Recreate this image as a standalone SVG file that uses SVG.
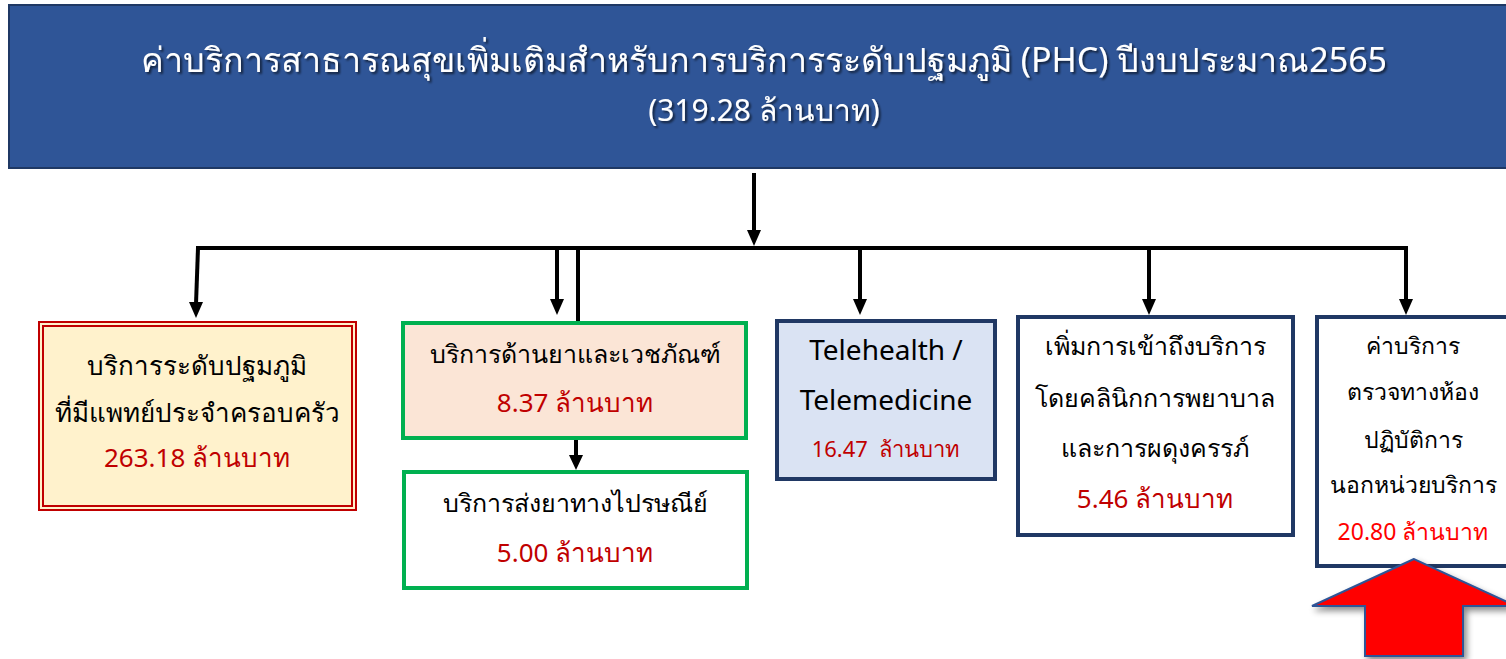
<svg xmlns="http://www.w3.org/2000/svg" width="1506" height="659" viewBox="0 0 1506 659">
<style>
text{font-family:"Noto Sans","DejaVu Sans",sans-serif;text-anchor:middle}
.t{fill:#000;font-size:26px}
.r{fill:#C00000;font-size:26px}
.h{fill:#fff;font-size:34px}
.c{stroke:#000;stroke-width:4;fill:none}
.nb{stroke:#203864;stroke-width:4}
.gb{stroke:#00B050;stroke-width:4}
</style>
<defs>
<filter id="ts" x="-5%" y="-20%" width="110%" height="140%">
<feDropShadow dx="2" dy="2" stdDeviation="1.2" flood-color="#000" flood-opacity="0.6"/>
</filter>
<filter id="as" x="-20%" y="-20%" width="140%" height="140%">
<feDropShadow dx="3" dy="4" stdDeviation="3" flood-color="#000" flood-opacity="0.45"/>
</filter>
</defs>

<g id="header">
<rect x="9" y="5" width="1510" height="163" fill="#2F5597" stroke="#1F3864" stroke-width="2"/>
<g filter="url(#ts)">
<text class="h" x="764" y="72">ค่าบริการสาธารณสุขเพิ่มเติมสำหรับการบริการระดับปฐมภูมิ (PHC) ปีงบประมาณ2565</text>
<text class="h" x="764" y="121" style="font-size:30px">(319.28 ล้านบาท)</text>
</g>
</g>

<g id="connectors">
<path class="c" d="M754,173 V232"/>
<path d="M747,230 L761,230 L754,246 Z"/>
<path class="c" d="M196,248 H1408"/>
<path class="c" d="M198,248 L196,304"/>
<path d="M189,302 L203,302 L196,318 Z"/>
<path class="c" d="M557,248 V300"/>
<path d="M550,299 L564,299 L557,315 Z"/>
<path class="c" d="M578,248 V322"/>
<path class="c" d="M860,248 V300"/>
<path d="M853,299 L867,299 L860,315 Z"/>
<path class="c" d="M1149,248 V300"/>
<path d="M1142,299 L1156,299 L1149,315 Z"/>
<path class="c" d="M1406,248 V300"/>
<path d="M1399,299 L1413,299 L1406,315 Z"/>
<path class="c" d="M576,440 V456"/>
<path d="M569,455 L583,455 L576,470 Z"/>
</g>

<g id="n1">
<rect x="39" y="322" width="317" height="188" fill="#FFF2CC" stroke="#C00000" stroke-width="2"/>
<rect x="43" y="326" width="309" height="180" fill="none" stroke="#C00000" stroke-width="2"/>
<text class="t" x="197" y="375">บริการระดับปฐมภูมิ</text>
<text class="t" x="197" y="422">ที่มีแพทย์ประจำครอบครัว</text>
<text class="r" x="197" y="467">263.18 ล้านบาท</text>
</g>

<g id="n2">
<rect x="403" y="323" width="343" height="115" fill="#FBE5D6" class="gb"/>
<text class="t" x="575" y="363" style="font-size:25px">บริการด้านยาและเวชภัณฑ์</text>
<text class="r" x="575" y="412">8.37 ล้านบาท</text>
</g>

<g id="n3">
<rect x="404" y="472" width="343" height="116" fill="#fff" class="gb"/>
<text class="t" x="575" y="512" style="font-size:25px">บริการส่งยาทางไปรษณีย์</text>
<text class="r" x="575" y="562">5.00 ล้านบาท</text>
</g>

<g id="n4">
<rect x="777" y="321" width="218" height="158" fill="#DAE3F3" class="nb"/>
<text class="t" x="886" y="360" style="font-size:28px">Telehealth /</text>
<text class="t" x="886" y="410" style="font-size:28px">Telemedicine</text>
<text class="r" x="886" y="457" style="font-size:22px" xml:space="preserve">16.47  ล้านบาท</text>
</g>

<g id="n5">
<rect x="1018" y="317" width="275" height="218" fill="#fff" class="nb"/>
<text class="t" x="1155" y="355" style="font-size:25px">เพิ่มการเข้าถึงบริการ</text>
<text class="t" x="1155" y="407" style="font-size:25px">โดยคลินิกการพยาบาล</text>
<text class="t" x="1155" y="457" style="font-size:25px">และการผดุงครรภ์</text>
<text class="r" x="1155" y="508">5.46 ล้านบาท</text>
</g>

<g id="n6">
<rect x="1317" y="317" width="200" height="249" fill="#fff" class="nb"/>
<text class="t" x="1413" y="354" style="font-size:23px">ค่าบริการ</text>
<text class="t" x="1413" y="400" style="font-size:23px">ตรวจทางห้อง</text>
<text class="t" x="1413" y="448" style="font-size:23px">ปฏิบัติการ</text>
<text class="t" x="1413" y="493" style="font-size:23px">นอกหน่วยบริการ</text>
<text class="r" x="1413" y="540" style="font-size:23px;fill:#FF0000">20.80 ล้านบาท</text>
</g>

<g id="red-arrow" filter="url(#as)">
<path d="M1414,559 L1312,606 L1365,606 L1365,656 L1463,656 L1463,606 L1516,606 Z" fill="#FF0000" stroke="#2F5597" stroke-width="2"/>
</g>
</svg>
